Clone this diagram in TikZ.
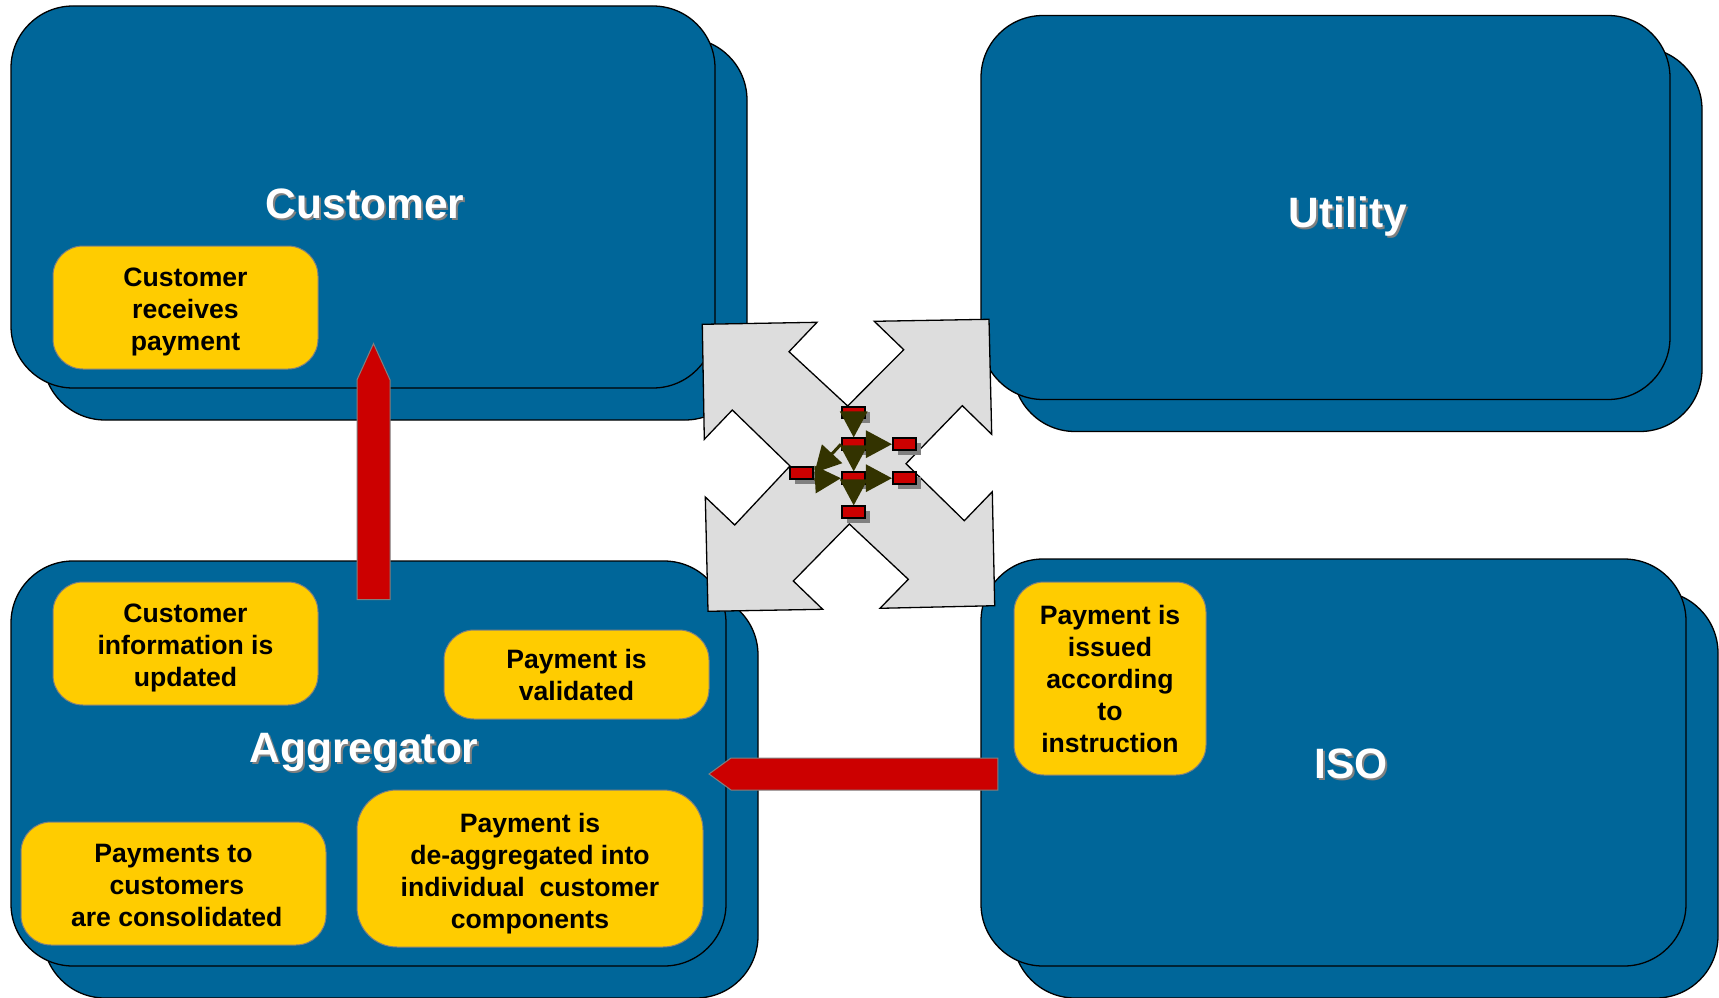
\documentclass[tikz,border=0pt]{standalone}
\usepackage{fontspec}
\setmainfont{Liberation Sans}
\usepackage{xcolor}
\usetikzlibrary{positioning}
\usetikzlibrary{shadows}
\usetikzlibrary{shapes.arrows}
\usetikzlibrary{arrows.meta}
\definecolor{boxblue}{HTML}{006699}
\definecolor{noteyellow}{HTML}{FFCC00}
\definecolor{flowred}{HTML}{CC0000}
\definecolor{tipolive}{HTML}{333300}
\definecolor{crossgray}{HTML}{DDDDDD}
\newcommand{\shadetitle}[1]{\rlap{\kern2pt\raisebox{-2pt}{\textcolor{gray}{#1}}}\textcolor{white}{#1}}
\newcommand{\dropline}[1]{\rule{0pt}{#1pt}}
\begin{document}
\begin{tikzpicture}[x=1pt, y=-1pt, node distance = 34pt and 51pt, on grid,
	party/.style ={draw, fill = boxblue, line width = 1.3pt, rounded corners = 62pt, inner sep = 0pt},
	title/.style ={font = \fontsize{42.5}{46}\selectfont\bfseries, inner sep = 0pt},
	note/.style ={draw = gray, fill = noteyellow, line width = 1pt, rounded corners = 30pt, inner sep = 0pt, align = center, font = \fontsize{26.6}{32}\selectfont\bfseries},
	bigarrow/.style ={single arrow, single arrow head extend = 0pt, draw = gray, fill = flowred, line width = 1pt, inner sep = 0pt},
	msg/.style ={draw, fill = flowred, line width = 2pt, minimum width = 23.5pt, minimum height = 11.5pt, inner sep = 0pt, drop shadow = {shadow xshift = 5pt, shadow yshift = -5pt, fill = gray, opacity = 1}},
	flow/.style ={draw = tipolive, line width = 3pt, -{Triangle[length = 26pt, width = 27pt, fill = tipolive]}}]
	\useasboundingbox (0,0) rectangle (1719,998);
	\node[party, minimum width = 704pt, minimum height = 382pt] (customerback) at (395,229) {};
	\node[party, minimum width = 704pt, minimum height = 382pt] (customer) at (363,197) {};
	\node[party, minimum width = 689pt, minimum height = 384pt] (utilityback) at (1357.5,239.5) {};
	\node[party, minimum width = 689pt, minimum height = 384pt] (utility) at (1325.5,207.5) {};
	\node[party, minimum width = 715pt, minimum height = 405pt] (aggregatorback) at (400.5,795.5) {};
	\node[party, minimum width = 715pt, minimum height = 405pt] (aggregator) at (368.5,763.5) {};
	\node[party, minimum width = 705pt, minimum height = 407pt] (isoback) at (1365.5,794.5) {};
	\node[party, minimum width = 705pt, minimum height = 407pt] (iso) at (1333.5,762.5) {};
	\node[title] (customertitle) at (365,205) {\shadetitle{Customer}};
	\node[title] (utilitytitle) at (1348,217.5) {\shadetitle{Utility}};
	\node[title] (aggregatortitle) at (364,753.5) {\shadetitle{Aggregator}};
	\node[title] (isotitle) at (1351,765) {\shadetitle{ISO}};
	\node[note, minimum width = 265pt, minimum height = 123pt] (receives) at (185.5,307.5) {\dropline{27}Customer\\receives\\payment};
	\node[note, minimum width = 265pt, minimum height = 123pt] (updated) at (185.5,643.5) {\dropline{27}Customer\\information is\\updated};
	\node[note, minimum width = 265pt, minimum height = 89pt] (validated) at (576.5,674.5) {Payment is\\validated};
	\node[note, minimum width = 305pt, minimum height = 123pt] (consolidated) at (173.5,883.5) {\dropline{22}Payments to\\\hspace*{6.6pt}customers\\\hspace*{6.6pt}are consolidated};
	\node[note, minimum width = 346pt, minimum height = 157pt, rounded corners = 40pt] (split) at (530,868.5) {\dropline{30}Payment is\\de-aggregated into\\individual\ \ customer\\components};
	\node[note, minimum width = 192pt, minimum height = 193pt] (issued) at (1110,678.5) {Payment is\\issued\\according\\to\\instruction};
	\node[bigarrow, shape border rotate = 90, minimum height = 256pt, minimum width = 33pt, single arrow tip angle = 49] (toagg) at (373.5,489.7) {};
	\node[bigarrow, shape border rotate = 180, minimum height = 289pt, minimum width = 32pt, single arrow tip angle = 72] (toiso) at (864.5,774) {};
	\draw[fill = crossgray, line width = 1.3pt] (702.3,324.3) -- (817,322.3) -- (789,351.7) -- (847.7,406) -- (903.7,349.7) -- (874.3,321.3) -- (989,319.3) -- (991.7,434.3) -- (962.3,405.7) -- (906,463.7) -- (964.3,520.7) -- (992.3,491.7) -- (994.7,605.7) -- (880,608.3) -- (908.3,579.3) -- (849.3,524) -- (793.3,581) -- (822.7,609.3) -- (708,611.3) -- (705.3,497) -- (734.7,525) -- (790,466) -- (732.3,410) -- (704.3,439.3) -- cycle;
	\node[msg] (m1) at (853.7,412.7) {};
	\node[msg] (m2) [below = of m1, yshift = 2.5pt] {};
	\node[msg] (m3) [below = of m2] {};
	\node[msg] (m4) [below = of m3] {};
	\node[msg] (mleft) [left = of m3, xshift = -1pt, yshift = 5.4pt] {};
	\node[msg] (mup) [right = of m2] {};
	\node[msg] (mdown) [right = of m3] {};
	\path (m1.south) edge[flow] (m2.north)
	(m2.south) edge[flow] (m3.north)
	(m3.south) edge[flow] (m4.north)
	(m2.east) edge[flow] (mup.west)
	(m3.east) edge[flow] (mdown.west)
	(m2.west) edge[flow] (mleft.east)
	(mleft.south east) edge[flow] (m3.west);
\end{tikzpicture}
\end{document}
